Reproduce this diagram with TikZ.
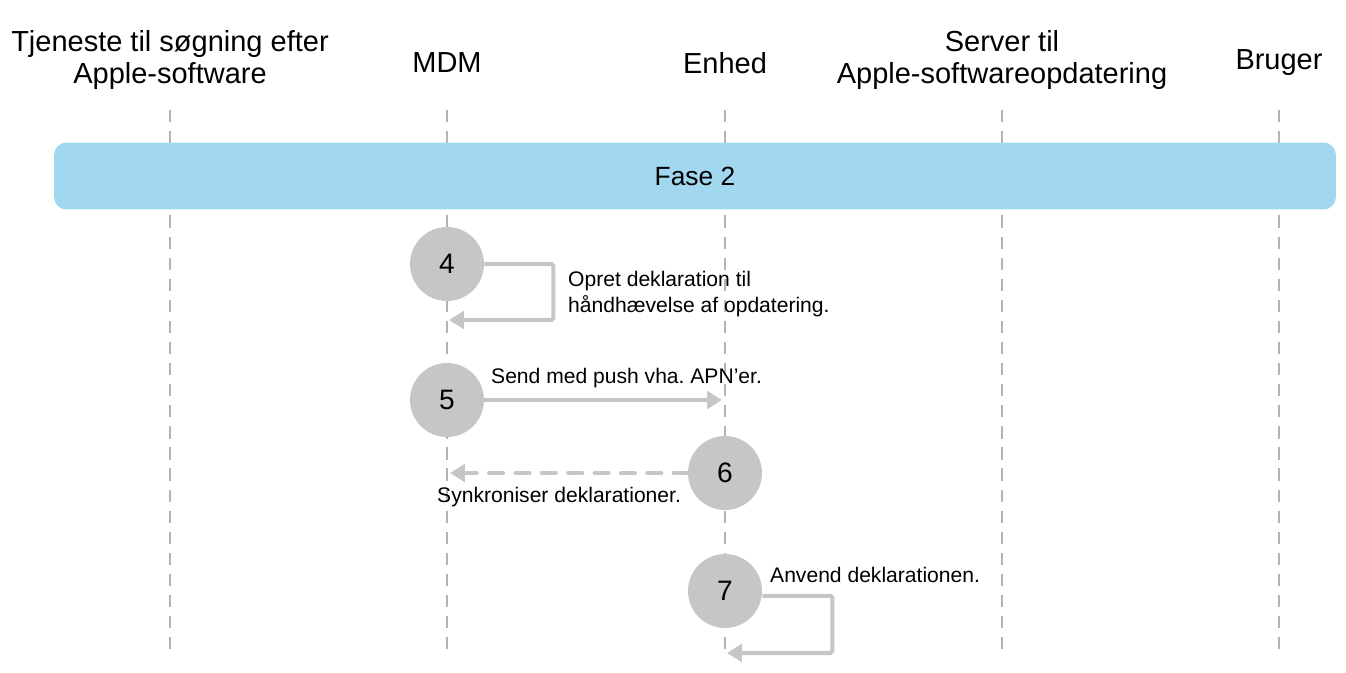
\documentclass[tikz,border=0pt]{standalone}
\usepackage{fontspec}
\setmainfont{Liberation Sans}
\usetikzlibrary{arrows.meta}
\definecolor{phaseblue}{HTML}{A2D8EF}
\definecolor{stepgray}{HTML}{C6C6C6}
\definecolor{linegray}{HTML}{B4B4B4}
\frenchspacing

\begin{document}
\begin{tikzpicture}[x=0.02cm,y=-0.02cm]
    \tikzset{
        lifeline/.style={draw=linegray, line width=0.6pt, dash pattern=on 7pt off 5pt},
        header/.style={align=center, font=\fontsize{16.5}{18.2}\selectfont},
        phase/.style={fill=phaseblue, rounded corners=7pt, minimum width=25.64cm,
            minimum height=1.34cm, font=\fontsize{15}{17}\selectfont},
        stepnode/.style={circle, fill=stepgray, minimum size=1.48cm, inner sep=0pt,
            font=\fontsize{16}{18}\selectfont},
        msg/.style={draw=stepgray, line width=2.3pt,
            -{Triangle[length=8.5pt,width=10pt]}},
        msgtext/.style={anchor=west, align=left, font=\fontsize{12}{14.8}\selectfont},
    }
    \useasboundingbox (0,0) rectangle (1346,673);

    % Participants
    \node[header] (search) at (170,60) {Tjeneste til søgning efter\\Apple-software};
    \node[header] (mdm) at (447,63) {MDM};
    \node[header] (device) at (725,63) {Enhed};
    \node[header] (server) at (1002,60) {Server til\\Apple-softwareopdatering};
    \node[header] (user) at (1279,63) {Bruger};

    % Lifelines
    \foreach \x in {170,447,725,1002,1279}
        \draw[lifeline] (\x,110) -- (\x,652);

    % Phase
    \node[phase] (phase2) at (695,176) {Fase 2};

    % Steps
    \node[stepnode] (s4) at (447,264) {4};
    \node[stepnode] (s5) at (447,400) {5};
    \node[stepnode] (s6) at (725,473) {6};
    \node[stepnode] (s7) at (725,591) {7};

    % Ends on the lifelines
    \coordinate (back4) at (449,320);
    \coordinate (device5) at (722,400);
    \coordinate (mdm6) at (450,473);
    \coordinate (back7) at (727,653);

    % Messages
    \draw[msg, rounded corners=1pt] (s4.east) -- ++(69,0) |- (back4);
    \draw[msg] (s5.east) -- (device5);
    \draw[msg, dash pattern=on 8pt off 7pt, line cap=round] (s6.west) -- (mdm6);
    \draw[msg, rounded corners=1pt] ([yshift=-2.8pt]s7.east) -- ++(70,0) |- (back7);

    % Labels
    \node[msgtext] (t4) at (562,294) {Opret deklaration til\\håndhævelse af opdatering.};
    \node[msgtext] (t5) at (485,378) {Send med push vha. APN’er.};
    \node[msgtext] (t6) at (431,497) {Synkroniser deklarationer.};
    \node[msgtext] (t7) at (764,575) {Anvend deklarationen.};

\end{tikzpicture}
\end{document}
